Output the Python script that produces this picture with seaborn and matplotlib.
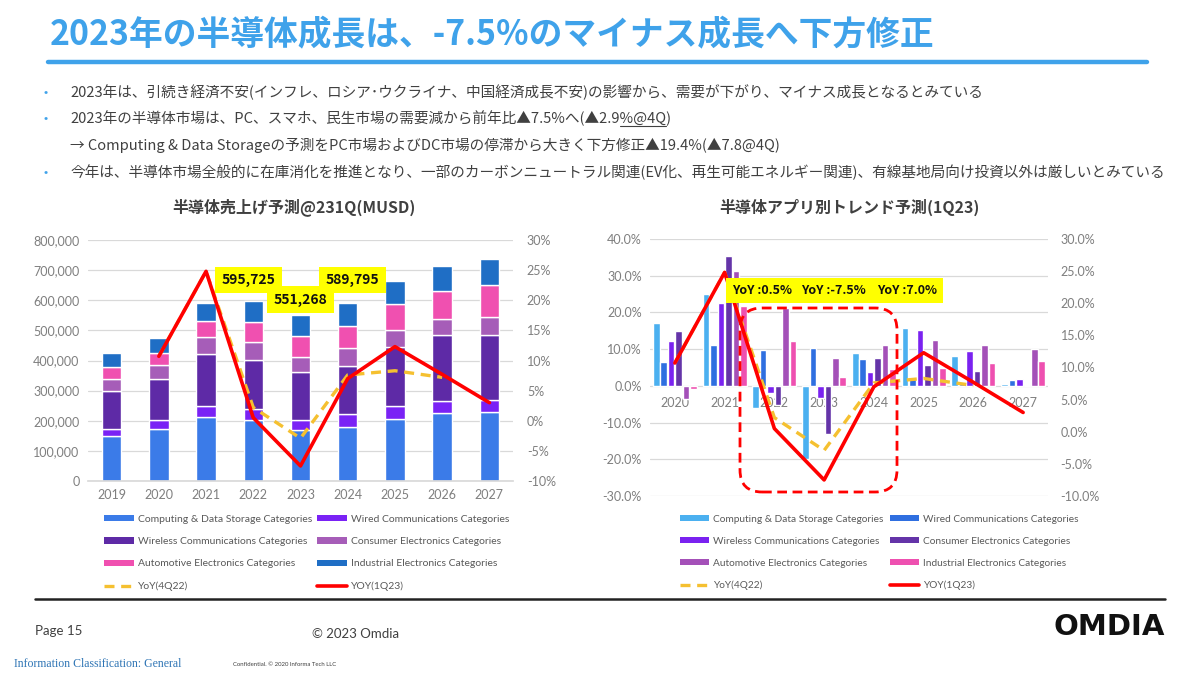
import numpy as np
import pandas as pd
import matplotlib
matplotlib.use("Agg")
import matplotlib.pyplot as plt
import seaborn as sns
from matplotlib.patches import Patch, FancyBboxPatch
from matplotlib.lines import Line2D
from matplotlib.ticker import FuncFormatter, MultipleLocator

# ---------------- data ----------------
categories = [
    "Computing & Data Storage Categories",
    "Wired Communications Categories",
    "Wireless Communications Categories",
    "Consumer Electronics Categories",
    "Automotive Electronics Categories",
    "Industrial Electronics Categories",
]

# left chart: revenue (MUSD, thousands)
years_left = ["2019", "2020", "2021", "2022", "2023", "2024", "2025", "2026", "2027"]
rev_computing = [148, 172, 214, 204, 168, 179, 206, 225, 228]
rev_wired = [25, 29, 34, 34, 33, 42, 44, 42, 42]
rev_wireless = [127, 138, 172, 165, 160, 162, 194, 216, 216]
rev_consumer = [39, 47, 57, 60, 50, 58, 56, 55, 58]
rev_automotive = [38, 38, 54, 64, 70, 75, 86, 94, 105]
rev_industrial = [48, 50, 60, 69, 70, 74, 77, 83, 87]
labeled_years = ["2022", "2023", "2024"]
labeled_totals = [595725, 551268, 589795]

# YoY growth lines (%)
yoy_years = ["2020", "2021", "2022", "2023", "2024", "2025", "2026", "2027"]
yoy_1q23 = [10.7, 24.8, 0.5, -7.5, 7.0, 12.3, 7.7, 3.0]
yoy_4q22_years = ["2020", "2021", "2022", "2023", "2024", "2025", "2026"]
yoy_4q22 = [10.7, 24.8, 2.2, -2.9, 7.6, 8.3, 7.2]

# right chart: growth by application (%)
years_right = ["2020", "2021", "2022", "2023", "2024", "2025", "2026", "2027"]
gr_computing = [17.0, 25.1, -6.1, -19.8, 8.9, 15.7, 8.2, 0.4]
gr_wired = [6.5, 11.2, 9.8, 10.2, 7.3, 2.0, 0.5, 1.5]
gr_wireless = [12.1, 22.5, -2.0, -3.4, 3.8, 15.3, 9.6, 1.8]
gr_consumer = [15.0, 35.4, -5.2, -13.0, 7.7, 5.7, 4.1, 0.2]
gr_automotive = [-3.6, 31.3, 21.2, 7.7, 11.1, 12.5, 11.2, 10.0]
gr_industrial = [-0.8, 21.7, 12.3, 2.4, 4.5, 4.8, 6.3, 6.8]
yoy_label_years = ["2022", "2023", "2024"]

title = "2023年の半導体成長は、-7.5%のマイナス成長へ下方修正"
bullets = [
    ("•", "2023年は、引続き経済不安(インフレ、ロシア･ウクライナ、中国経済成長不安)の影響から、需要が下がり、マイナス成長となるとみている"),
    ("•", "2023年の半導体市場は、PC、スマホ、民生市場の需要減から前年比▲7.5%へ(▲2.9%@4Q)"),
    ("", "→ Computing & Data Storageの予測をPC市場およびDC市場の停滞から大きく下方修正▲19.4%(▲7.8@4Q)"),
    ("•", "今年は、半導体市場全般的に在庫消化を推進となり、一部のカーボンニュートラル関連(EV化、再生可能エネルギー関連)、有線基地局向け投資以外は厳しいとみている"),
]

# ---------------- style ----------------
sns.set_theme(style="white")
plt.rcParams["font.family"] = ["Noto Sans CJK JP", "DejaVu Sans"]
TICKFONT = ["Lato", "Noto Sans CJK JP", "DejaVu Sans"]
GRID = "#D9D9D9"
TICKC = "#7F7F7F"
BLUE_T = "#3FA2EA"

colors_left = ["#3B7BE8", "#7A22F5", "#5E2AA6", "#A65DB8", "#F050B0", "#1F6EC5"]
colors_right = ["#4BB0F0", "#2F6FE0", "#7A22F0", "#6434A8", "#A450B8", "#EE50B0"]
RED = "#FF0000"
YEL = "#F5C030"

W, H = 1200, 675
BODY = 10.55
fig = plt.figure(figsize=(12, 6.75), dpi=100)

def fx(px):
    return px / W

def fy(py):
    return 1 - py / H

# ---------------- header ----------------
fig.text(fx(50), fy(35), title, fontsize=24.3, fontweight="bold", color=BLUE_T, va="center", ha="left")
fig.add_artist(Line2D([fx(48), fx(1147)], [fy(62), fy(62)], color=BLUE_T, lw=3.2, transform=fig.transFigure))

bullet_y = [92, 118, 145, 172]
for (b, t), yy in zip(bullets, bullet_y):
    if b:
        fig.text(fx(43), fy(yy), b, fontsize=9, color=BLUE_T, va="center", ha="left")
    fig.text(fx(70), fy(yy), t, fontsize=BODY, color="#404040", va="center", ha="left")

# underline "%@4Q" in the second bullet
fig.canvas.draw()
rend = fig.canvas.get_renderer()
line2 = bullets[1][1]
pre = line2[: line2.index("%@4Q")]
t_pre = fig.text(fx(70), fy(118), pre, fontsize=BODY, va="center", ha="left")
t_pre2 = fig.text(fx(70), fy(118), pre + "%@4Q", fontsize=BODY, va="center", ha="left")
x0 = t_pre.get_window_extent(rend).x1
x1 = t_pre2.get_window_extent(rend).x1
t_pre.remove(); t_pre2.remove()
fig.add_artist(Line2D([x0 / W, x1 / W], [fy(126), fy(126)], color="#404040", lw=0.8, transform=fig.transFigure))

# ---------------- left chart ----------------
ax1 = fig.add_axes([fx(88), fy(481), fx(513) - fx(88), fy(240) - fy(481)])
series_left = [rev_computing, rev_wired, rev_wireless, rev_consumer, rev_automotive, rev_industrial]
bottom = np.zeros(len(years_left))
for vals, col in zip(series_left, colors_left):
    v = np.array(vals, dtype=float) * 1000
    sns.barplot(x=years_left, y=v, bottom=bottom, color=col, saturation=1, width=0.41,
                errorbar=None, ax=ax1, zorder=2)
    bottom = bottom + v
ax1.set_ylim(0, 800000)
ax1.yaxis.set_major_locator(MultipleLocator(100000))
ax1.yaxis.set_major_formatter(FuncFormatter(lambda v, p: f"{v:,.0f}"))
ax1.grid(axis="y", color=GRID, lw=0.9, zorder=0)
ax1.set_axisbelow(True)
for s in ax1.spines.values():
    s.set_visible(False)
ax1.spines["bottom"].set_visible(True)
ax1.spines["bottom"].set_color(GRID)
ax1.tick_params(axis="both", length=0, labelsize=9, labelcolor=TICKC, pad=6)
ax1.set_xlabel(""); ax1.set_ylabel("")

ax1t = ax1.twinx()
xl_pos = [years_left.index(y) for y in yoy_years]
x4_pos = [years_left.index(y) for y in yoy_4q22_years]
sns.lineplot(x=x4_pos, y=yoy_4q22, ax=ax1t, color=YEL, lw=2.4, dashes=[(3, 2)], style=np.zeros(len(x4_pos)), legend=False, sort=False)
sns.lineplot(x=xl_pos, y=yoy_1q23, ax=ax1t, color=RED, lw=2.6, legend=False, sort=False)
ax1t.set_ylim(-10, 30)
ax1t.yaxis.set_major_locator(MultipleLocator(5))
ax1t.yaxis.set_major_formatter(FuncFormatter(lambda v, p: f"{v:.0f}%"))
ax1t.tick_params(axis="y", length=0, labelsize=9, labelcolor=TICKC, pad=10)
for s in ax1t.spines.values():
    s.set_visible(False)
ax1t.set_xlabel(""); ax1t.set_ylabel("")
ax1.set_xlim(-0.5, len(years_left) - 0.5)

# total labels (yellow boxes), drawn on the twin axis so they sit above the lines
label_offsets = [-0.1, 0.0, 0.1]
label_levels = [667000, 602000, 667000]
for yr, tot, dx, lv in zip(labeled_years, labeled_totals, label_offsets, label_levels):
    xi = years_left.index(yr) + dx
    yy = -10 + (lv / 800000) * 40
    ax1t.text(xi, yy, f"{tot:,}", ha="center", va="center", fontsize=10, fontweight="bold",
              color="#111111", zorder=10,
              bbox=dict(boxstyle="square,pad=0.45", fc="#FFFF00", ec="none"))

fig.text(fx(294), fy(207), "半導体売上げ予測@231Q(MUSD)", fontsize=11.5, fontweight="bold",
         color="#404040", ha="center", va="center")

for lab in ax1.get_xticklabels() + ax1.get_yticklabels() + ax1t.get_yticklabels():
    lab.set_fontfamily(TICKFONT)

# ---------------- right chart ----------------
ax2 = fig.add_axes([fx(650), fy(496), fx(1048) - fx(650), fy(239) - fy(496)])
series_right = [gr_computing, gr_wired, gr_wireless, gr_consumer, gr_automotive, gr_industrial]
df_r = pd.DataFrame({
    "year": np.repeat(years_right, len(categories)),
    "category": categories * len(years_right),
    "value": [series_right[c][i] for i in range(len(years_right)) for c in range(len(categories))],
})
sns.barplot(data=df_r, x="year", y="value", hue="category", hue_order=categories,
            palette=colors_right, saturation=1, width=0.9, gap=0.12, errorbar=None,
            legend=False, ax=ax2, zorder=2)
ax2.set_ylim(-30, 40)
ax2.yaxis.set_major_locator(MultipleLocator(10))
ax2.yaxis.set_major_formatter(FuncFormatter(lambda v, p: f"{v:.1f}%"))
ax2.grid(axis="y", color=GRID, lw=0.9, zorder=0)
ax2.set_axisbelow(True)
for s in ax2.spines.values():
    s.set_visible(False)
ax2.spines["bottom"].set_position(("data", 0))
ax2.tick_params(axis="both", length=0, labelsize=9, labelcolor=TICKC, pad=6)
ax2.tick_params(axis="x", pad=8)
ax2.set_xlabel(""); ax2.set_ylabel("")

ax2t = ax2.twinx()
xr_pos = [years_right.index(y) for y in yoy_years]
xr4_pos = [years_right.index(y) for y in yoy_4q22_years]
sns.lineplot(x=xr4_pos, y=yoy_4q22, ax=ax2t, color=YEL, lw=2.4, dashes=[(3, 2)], style=np.zeros(len(xr4_pos)), legend=False, sort=False)
sns.lineplot(x=xr_pos, y=yoy_1q23, ax=ax2t, color=RED, lw=2.6, legend=False, sort=False)
ax2t.set_ylim(-10, 30)
ax2t.yaxis.set_major_locator(MultipleLocator(5))
ax2t.yaxis.set_major_formatter(FuncFormatter(lambda v, p: f"{v:.1f}%"))
ax2t.tick_params(axis="y", length=0, labelsize=9, labelcolor=TICKC, pad=9)
for s in ax2t.spines.values():
    s.set_visible(False)
ax2t.set_xlabel(""); ax2t.set_ylabel("")
ax2.set_xlim(-0.5, len(years_right) - 0.5)

yoy_box_x = [0.281, 0.461, 0.645]
for yr, bx in zip(yoy_label_years, yoy_box_x):
    val = yoy_1q23[yoy_years.index(yr)]
    ax2t.text(bx, 0.80, f"YoY :{val:.1f}%", transform=ax2t.transAxes, ha="center", va="center",
              fontsize=9.0, fontweight="bold", color="#111111", zorder=10,
              bbox=dict(boxstyle="square,pad=0.5", fc="#FFFF00", ec="none"))

for lab in ax2.get_xticklabels() + ax2.get_yticklabels() + ax2t.get_yticklabels():
    lab.set_fontfamily(TICKFONT)

fig.text(fx(849), fy(207), "半導体アプリ別トレンド予測(1Q23)", fontsize=11.5, fontweight="bold",
         color="#404040", ha="center", va="center")

# dashed rounded rectangle highlighting 2022-2024
rect = FancyBboxPatch((7.40, (H - 492) / 100), 1.57, 1.84,
                      boxstyle="round,pad=0,rounding_size=0.22",
                      transform=fig.dpi_scale_trans, fill=False, ec=RED, lw=2.0,
                      ls=(0, (3.5, 2)), zorder=20)
fig.add_artist(rect)

# ---------------- legends ----------------
def make_legends(colors, x_col1, x_col2, y_top, fs):
    bar_h = [Patch(facecolor=c, edgecolor="none") for c in colors]
    l_yel = Line2D([0], [0], color=YEL, lw=2.4, ls=(0, (3, 2)))
    l_red = Line2D([0], [0], color=RED, lw=2.6)
    col1 = [bar_h[0], bar_h[2], bar_h[4], l_yel]
    col1_lab = [categories[0], categories[2], categories[4], "YoY(4Q22)"]
    col2 = [bar_h[1], bar_h[3], bar_h[5], l_red]
    col2_lab = [categories[1], categories[3], categories[5], "YOY(1Q23)"]
    for hs, ls, xx in ((col1, col1_lab, x_col1), (col2, col2_lab, x_col2)):
        fig.legend(hs, ls, loc="upper left", bbox_to_anchor=(fx(xx), fy(y_top)),
                   bbox_transform=fig.transFigure, frameon=False, ncol=1,
                   prop={"family": TICKFONT, "size": fs}, labelcolor="#595959",
                   handlelength=2.9, handleheight=0.55, handletextpad=0.35,
                   labelspacing=1.27, borderpad=0, borderaxespad=0)

make_legends(colors_left, 104, 317, 515, 7.5)
make_legends(colors_right, 680, 890, 515, 7.3)

# ---------------- footer ----------------
fig.add_artist(Line2D([fx(35), fx(1165)], [fy(599), fy(599)], color="#222222", lw=1.8, transform=fig.transFigure))
fig.text(fx(35), fy(631), "Page 15", fontsize=9.5, color="#404040", family=TICKFONT, va="center")
fig.text(fx(312), fy(634), "© 2023 Omdia", fontsize=9.5, color="#404040", family=TICKFONT, va="center")
fig.text(fx(14), fy(664), "Information Classification: General", fontsize=8.5, color="#2F75B5",
         family=["Liberation Serif", "DejaVu Serif"], va="center")
fig.text(fx(233), fy(664), "Confidential. © 2020 Informa Tech LLC", fontsize=4.3, color="#404040",
         family=TICKFONT, va="center")
fig.text(fx(1165), fy(627), "OMDIA", fontsize=21, fontweight="bold", color="#111111",
         family=["DejaVu Sans"], ha="right", va="center")

fig.savefig("out.png", dpi=100)
